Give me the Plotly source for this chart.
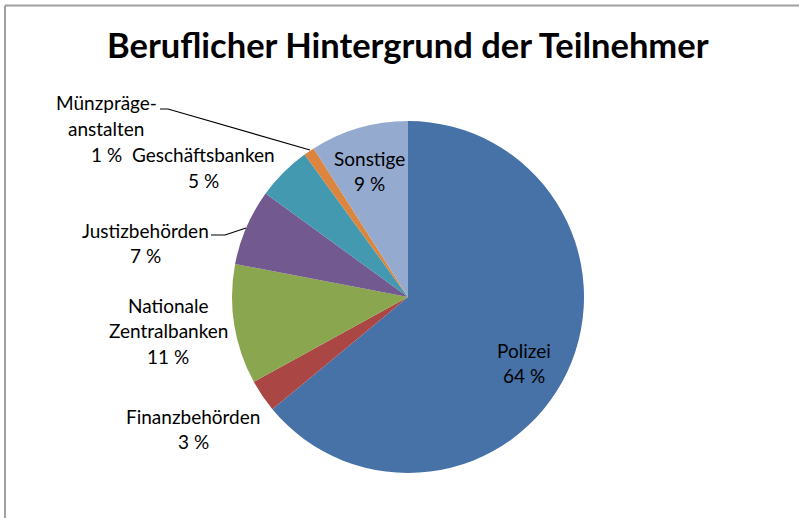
import plotly.graph_objects as go

W, H = 799, 518

categories = ["Polizei", "Finanzbehörden", "Nationale Zentralbanken", "Justizbehörden",
              "Geschäftsbanken", "Münzprägeanstalten", "Sonstige"]
values = [64, 3, 11, 7, 5, 1, 9]
colors = ["#4672A8", "#AA4744", "#8AA64F", "#72598F", "#4299B0", "#DB853E", "#94AACF"]

# label text lines (as displayed)
label_lines = [
    ["Polizei", "64 %"],
    ["Finanzbehörden", "3 %"],
    ["Nationale", "Zentralbanken", "11 %"],
    ["Justizbehörden", "7 %"],
    ["Geschäftsbanken", "5 %"],
    ["Münzpräge-", "anstalten", "1 %"],
    ["Sonstige", "9 %"],
]

# label anchor positions in pixels (centre x, first line y), line step
label_pos = [
    (524, 351), (193, 417), (168, 306), (145, 231), (204, 156), (106, 104), (369, 159),
]
LINE_STEP = 25.5

def px(x):
    return x / W

def py(y):
    return 1 - y / H

cx, cy, r = 408, 297, 176

fig = go.Figure(go.Pie(
    labels=categories,
    values=values,
    marker=dict(colors=colors, line=dict(width=0)),
    sort=False,
    direction="clockwise",
    rotation=0,
    textinfo="none",
    showlegend=False,
    domain=dict(x=[px(cx - r), px(cx + r)], y=[py(cy + r), py(cy - r)]),
))

annotations = [dict(
    text="Beruflicher Hintergrund der Teilnehmer",
    x=px(408), y=py(44), xref="paper", yref="paper",
    xanchor="center", yanchor="middle", showarrow=False,
    font=dict(family="Lato", size=34.5, color="#000000", weight="bold"),
)]
for lines, (lx, ly) in zip(label_lines, label_pos):
    for i, t in enumerate(lines):
        annotations.append(dict(
            text=t, x=px(lx), y=py(ly + i * LINE_STEP - 1), xref="paper", yref="paper",
            xanchor="center", yanchor="middle", showarrow=False,
            font=dict(family="Lato", size=19, color="#000000"),
        ))

shapes = [
    # chart area frame (top and left edges visible)
    dict(type="line", xref="paper", yref="paper", x0=px(5), x1=1, y0=py(5.5), y1=py(5.5),
         line=dict(color="#A0A0A0", width=2)),
    dict(type="line", xref="paper", yref="paper", x0=px(5), x1=px(5), y0=py(5.5), y1=0,
         line=dict(color="#A0A0A0", width=2)),
    # leader lines
    dict(type="path", xref="paper", yref="paper",
         path=f"M {px(160)},{py(109)} L {px(168)},{py(109)} L {px(310)},{py(150)}",
         line=dict(color="#000000", width=1.2)),
    dict(type="path", xref="paper", yref="paper",
         path=f"M {px(211)},{py(235)} L {px(225)},{py(235)} L {px(246)},{py(228)}",
         line=dict(color="#000000", width=1.2)),
]

fig.update_layout(
    width=W, height=H,
    margin=dict(l=0, r=0, t=0, b=0),
    paper_bgcolor="#FFFFFF",
    plot_bgcolor="#FFFFFF",
    annotations=annotations,
    shapes=shapes,
)

fig.write_html("out.html")
